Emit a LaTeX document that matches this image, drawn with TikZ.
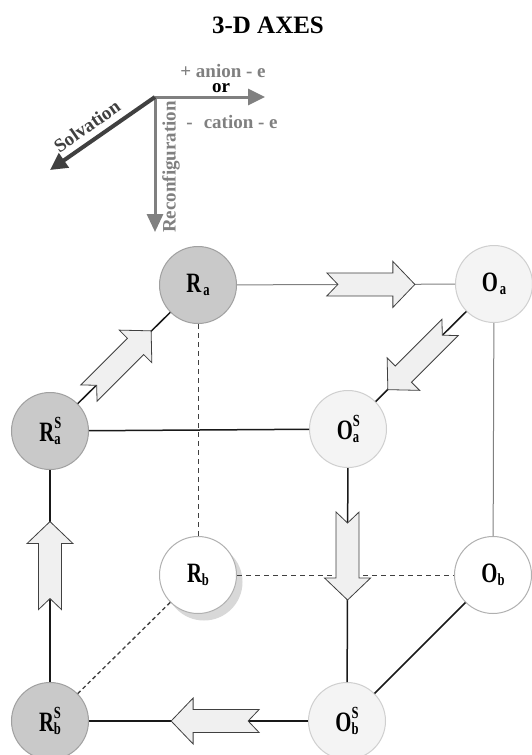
\documentclass[tikz,border=0pt]{standalone}
\usepackage{fontspec}
\setmainfont{Liberation Serif}
\newfontfamily\labfont[FakeStretch=0.74]{Liberation Serif Bold}
\usetikzlibrary{calc,shadows,arrows.meta}
\definecolor{rfill}{HTML}{C9C9C9}
\definecolor{rdraw}{HTML}{A0A0A0}
\definecolor{ofill}{HTML}{F4F4F4}
\definecolor{odraw}{HTML}{CFCFCF}
\definecolor{wdraw}{HTML}{B0B0B0}
\definecolor{shad}{HTML}{D8D8D8}
\definecolor{afill}{HTML}{F0F0F0}
\definecolor{adraw}{HTML}{404040}
\definecolor{axgray}{HTML}{808080}
\definecolor{axdark}{HTML}{404040}
\newcommand\nlab[3]{{\fontsize{28}{28}\selectfont\labfont #1}\makebox[0pt][l]{\raisebox{13pt}{\fontsize{17}{17}\selectfont\labfont #2}}\raisebox{-3pt}{\fontsize{17}{17}\selectfont\labfont #3}}
\tikzset{
  st/.style={circle, minimum size=77pt, inner sep=0pt, line width=1pt},
  rnode/.style={st, fill=rfill, draw=rdraw},
  onode/.style={st, fill=ofill, draw=odraw},
  wnode/.style={st, fill=white, draw=wdraw},
  edge/.style={line width=1.5pt, draw=black!90},
  thin/.style={line width=1pt, draw=axgray},
  dsh/.style={line width=1pt, draw=adraw, dash pattern=on 5pt off 4pt},
  arrowsty/.style={fill=afill, draw=adraw, line width=0.8pt, line join=miter},
  fatarr/.pic={\path[arrowsty] (-44,11.5) -- (22,11.5) -- (22,23) -- (44,0) -- (22,-23) -- (22,-11.5) -- (-44,-11.5) -- (-33,0) -- cycle;},
  axlab/.style={font=\fontsize{19}{19}\selectfont\bfseries, inner sep=0pt}
}
\begin{document}
\begin{tikzpicture}[x=1pt, y=-1pt]
\useasboundingbox[fill=white] (0,0) rectangle (531,755);
% title
\node[font=\fontsize{25}{25}\selectfont\bfseries] (title) at (268,25) {3-D AXES};
% axes
\coordinate (o) at (155,97);
\coordinate (xe) at (265,97);
\coordinate (ye) at (155,232);
\coordinate (ze) at (50,170);
\draw[line width=3pt, axgray, -{Triangle[length=17pt,width=16pt]}] (o) -- (xe);
\draw[line width=3pt, axgray, -{Triangle[length=18pt,width=16pt]}] (o) -- (ye);
\draw[line width=4pt, axdark, -{Triangle[length=17pt,width=17pt]}] (o) -- (ze);
\node[axlab, text=axgray] (an) at (223,71) {+ anion - e};
\node[axlab, text=black] (or) at (221,88) {or};
\node[axlab, text=axgray] (ca) at (232,122) {-\,\, cation - e};
\node[axlab, text=axgray, rotate=90] (rc) at (171,167) {Reconfiguration};
\node[axlab, text=axdark, rotate=35] (sv) at (87,126) {Solvation};
% nodes
\node[rnode] (Ra) at (198,285) {\nlab{R}{}{\kern2pt a}};
\node[onode] (Oa) at (494,284) {\nlab{O}{}{\kern2pt a}};
\node[rnode] (RaS) at (50,431) {\nlab{R}{S}{a}};
\node[onode] (OaS) at (348,429) {\nlab{O}{S}{a}};
\node[wnode, drop shadow={shadow xshift=6pt, shadow yshift=-7pt, fill=shad, opacity=1}] (Rb) at (198,575) {\nlab{R}{}{b}};
\node[wnode] (Ob) at (493,575) {\nlab{O}{}{b}};
\node[rnode] (RbS) at (50,721) {\nlab{R}{S}{b}};
\node[onode] (ObS) at (347,721) {\nlab{O}{S}{b}};
% connectors
\draw[thin] (Ra) -- (Oa);
\draw[thin] (Oa) -- (Ob);
\draw[dsh] (Ra) -- (Rb);
\draw[dsh] (Rb) -- (Ob);
\draw[dsh, line width=1.3pt, dash pattern=on 4pt off 3pt] (Rb) -- (RbS);
\draw[edge] (Ra) -- (RaS);
\draw[edge] (Oa) -- (OaS);
\draw[edge] (RaS) -- (OaS);
\draw[edge] (RaS) -- (RbS);
\draw[edge] (OaS) -- (ObS);
\draw[edge] (ObS) -- (RbS);
\draw[edge] (Ob) -- (ObS);
% fat arrows
\pic[rotate=0] at ($(Ra)!0.584!(Oa)$) {fatarr};
\pic[rotate=45] at ($(RaS)!0.473!(Ra)$) {fatarr};
\pic[rotate=-135] at ($(Oa)!0.514!(OaS)$) {fatarr};
\pic[rotate=90] at ($(RbS)!0.536!(RaS)$) {fatarr};
\pic[rotate=-90] at ($(OaS)!0.435!(ObS)$) {fatarr};
\pic[rotate=180] at ($(ObS)!0.444!(RbS)$) {fatarr};
\end{tikzpicture}
\end{document}
